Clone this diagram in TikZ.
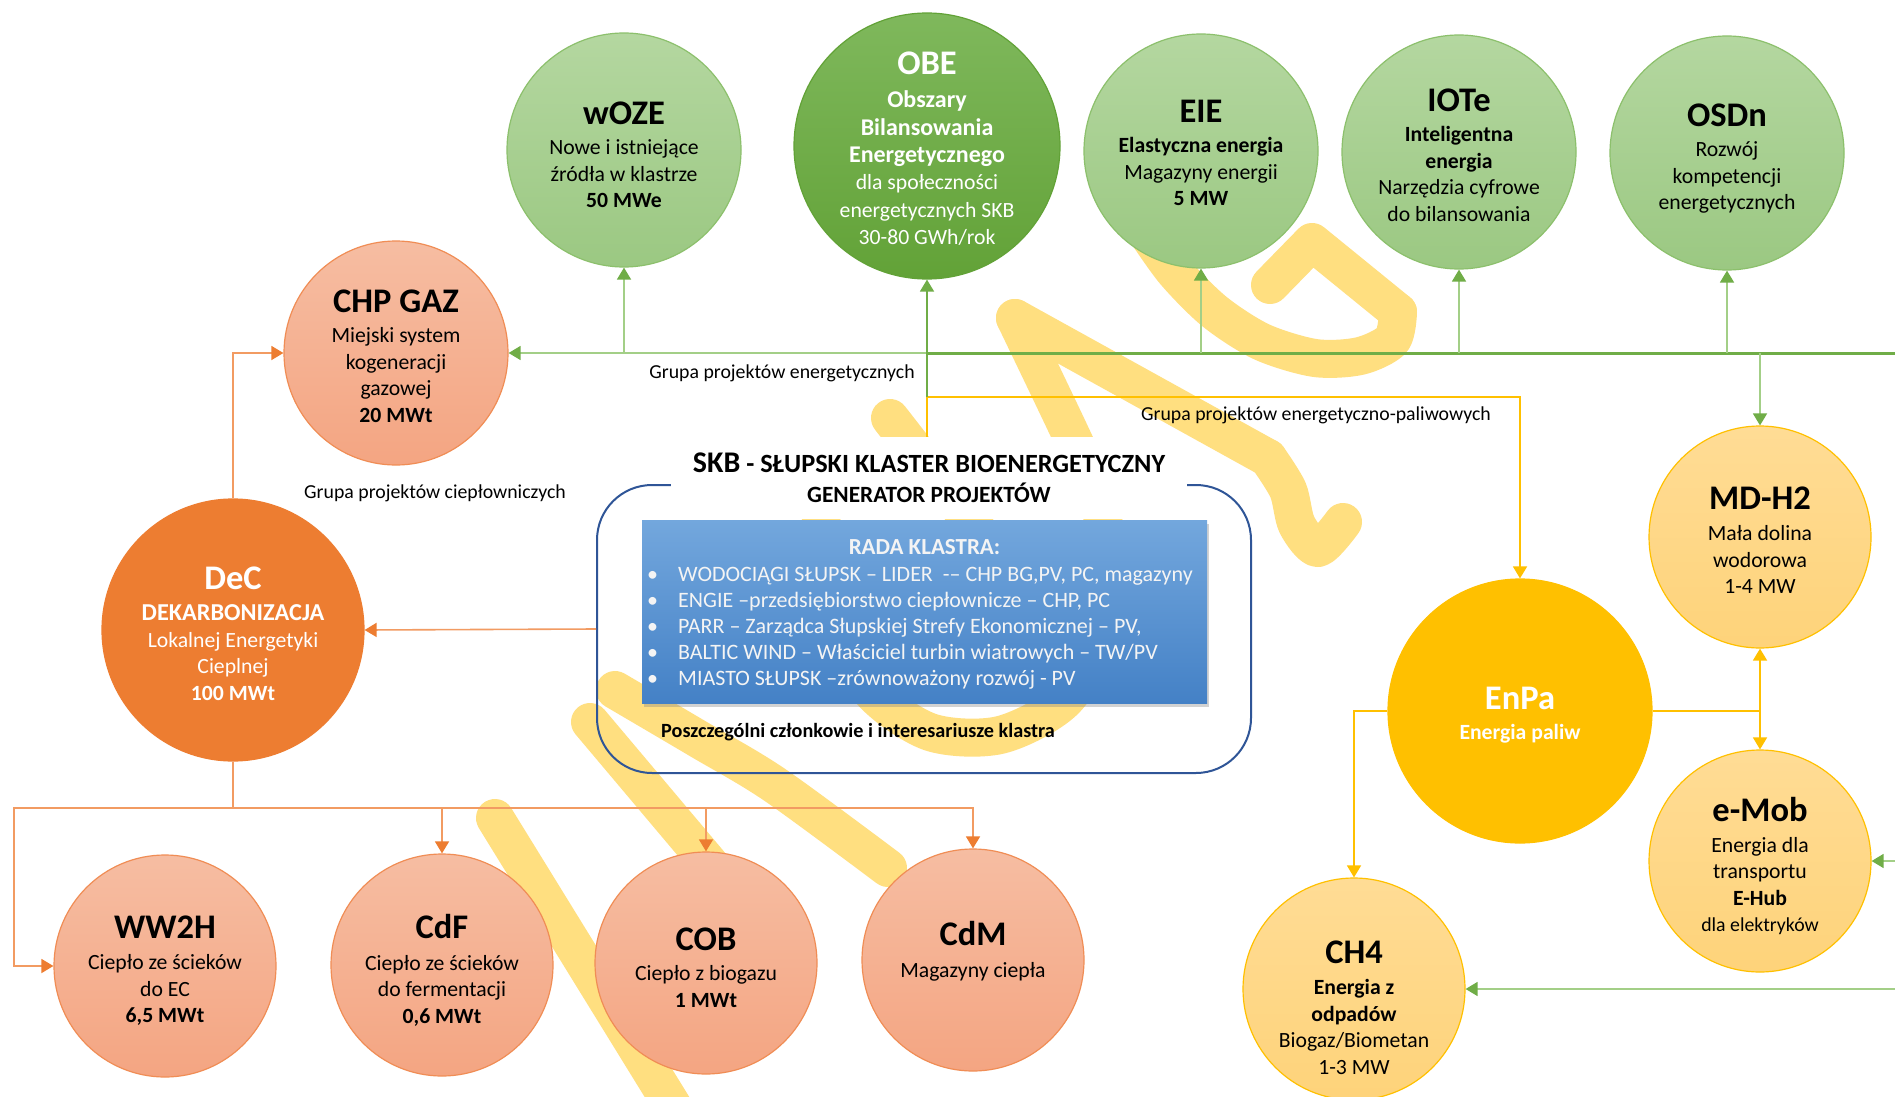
\documentclass[tikz,border=0pt]{standalone}
\usepackage{fontspec}
\setmainfont{Carlito}
\usetikzlibrary{arrows.meta,shadows,calc}

\definecolor{GreenTop}{HTML}{B4D7A0}
\definecolor{GreenBot}{HTML}{9BC882}
\definecolor{GreenEdge}{HTML}{8CC06C}
\definecolor{ObeTop}{HTML}{7FB85C}
\definecolor{ObeBot}{HTML}{62A237}
\definecolor{GreenDark}{HTML}{70AD47}
\definecolor{GreenLine}{HTML}{A3CF87}
\definecolor{SalTop}{HTML}{F6BDA2}
\definecolor{SalBot}{HTML}{F4A582}
\definecolor{SalEdge}{HTML}{F08D55}
\definecolor{OrangeMain}{HTML}{ED7D31}
\definecolor{OrangeLine}{HTML}{F29B62}
\definecolor{Gold}{HTML}{FFC000}
\definecolor{GoldTop}{HTML}{FFDC95}
\definecolor{GoldBot}{HTML}{FED37A}
\definecolor{BlueTop}{HTML}{73A7DD}
\definecolor{BlueBot}{HTML}{4481C6}
\definecolor{Frame}{HTML}{2F5597}
\definecolor{Scrawl}{HTML}{FFDF80}
\definecolor{Pale}{HTML}{F4F4F4}

\newcommand{\bubtitle}{\fontsize{34.5}{36}\selectfont\bfseries}
\newcommand{\obebold}{\fontsize{24}{28}\selectfont\bfseries}
\newcommand{\rbul}{\makebox[31pt][l]{•}}

\tikzset{
  bubble/.style={circle, inner sep=0pt, line width=1.2pt},
  greenbub/.style={bubble, draw=GreenEdge, top color=GreenTop, bottom color=GreenBot, minimum size=234pt},
  obebub/.style={bubble, draw=ObeBot, top color=ObeTop, bottom color=ObeBot, minimum size=266pt},
  salbub/.style={bubble, draw=SalEdge, top color=SalTop, bottom color=SalBot, minimum size=222pt},
  decbub/.style={bubble, draw=OrangeMain, fill=OrangeMain, minimum size=262pt},
  enpabub/.style={bubble, draw=Gold, fill=Gold, minimum size=264pt},
  goldbub/.style={bubble, draw=Gold, top color=GoldTop, bottom color=GoldBot, minimum size=222pt},
  btext/.style={align=center, inner sep=0pt, anchor=north, font=\fontsize{21.7}{26.5}\selectfont},
  grp/.style={inner sep=0pt, font=\fontsize{19.8}{24}\selectfont},
  gline/.style={draw=GreenLine, line width=1.6pt},
  garrow/.style={gline, -{Triangle[length=12pt,width=14pt,color=GreenDark]}},
  oline/.style={draw=OrangeLine, line width=1.6pt},
  oarrow/.style={oline, -{Triangle[length=12pt,width=14pt,color=OrangeMain]}},
  yline/.style={draw=Gold, line width=1.6pt},
  yarrow/.style={yline, -{Triangle[length=12pt,width=14pt]}},
  scrawl/.style={draw=Scrawl, line width=38pt, line cap=round, line join=round},
}

\begin{document}
\begin{tikzpicture}[x=1pt,y=-1pt]
\fill[white] (0,0) rectangle (1895,1097);
\useasboundingbox (0,0) rectangle (1895,1097);

% background scrawl
\draw[scrawl] (495,818) -- (675,1110);
\draw[scrawl] (590,722) -- (740,900);
\draw[scrawl] plot[smooth] coordinates {(615,690) (700,740) (775,785) (888,868)};
\draw[scrawl] plot[smooth] coordinates {(812,468) (823,530) (838,620) (870,690) (930,732) (1000,735) (1065,700) (1105,630) (1110,560) (1095,490) (1071,435) (1015,318)};
\draw[scrawl] (1015,318) -- (1268,458);
\draw[scrawl] plot[smooth] coordinates {(1268,458) (1288,490) (1297,525) (1318,548) (1343,522)};
\draw[scrawl] (890,418) -- (985,540);
\draw[scrawl] (1270,285) -- (1312,242) -- (1398,312);
\draw[scrawl] plot[smooth] coordinates {(1398,312) (1392,340) (1360,356) (1315,358) (1262,342) (1215,312) (1175,272) (1145,230)};

% bubbles
\node[greenbub] (woze) at (624,150) {};
\node[obebub] (obe) at (927,146) {};
\node[greenbub] (eie) at (1201,151) {};
\node[greenbub] (iote) at (1459,152) {};
\node[greenbub] (osdn) at (1727,153) {};
\node[salbub, minimum size=224pt] (chp) at (396,353) {};
\node[decbub] (dec) at (233,630) {};
\node[salbub] (ww2h) at (165,966) {};
\node[salbub] (cdf) at (442,965) {};
\node[salbub] (cob) at (706,963) {};
\node[salbub] (cdm) at (973,960) {};
\node[enpabub] (enpa) at (1520,711) {};
\node[goldbub] (mdh2) at (1760,537) {};
\node[goldbub] (emob) at (1760,861) {};
\node[goldbub] (ch4) at (1354,989) {};

% bubble texts
\node[btext] (woze-t) at (624,101.5) {{\bubtitle wOZE}\\[4pt]Nowe i istniejące\\źródła w klastrze\\\textbf{50 MWe}};
\node[btext, text=white, font=\fontsize{21.7}{27.4}\selectfont] (obe-t) at (927,51.5) {{\bubtitle OBE}\\[6pt]{\obebold Obszary}\\{\obebold Bilansowania}\\{\obebold Energetycznego}\\dla społeczności\\energetycznych SKB\\30-80 GWh/rok};
\node[btext] (eie-t) at (1201,99.5) {{\bubtitle EIE}\\[4pt]\textbf{Elastyczna energia}\\Magazyny energii\\\textbf{5 MW}};
\node[btext] (iote-t) at (1459,88.5) {{\bubtitle IOTe}\\[4pt]\textbf{Inteligentna}\\\textbf{energia}\\Narzędzia cyfrowe\\do bilansowania};
\node[btext] (osdn-t) at (1727,103.5) {{\bubtitle OSDn}\\[4pt]Rozwój\\kompetencji\\energetycznych};
\node[btext] (chp-t) at (396,289.5) {{\bubtitle CHP GAZ}\\[4pt]Miejski system\\kogeneracji\\gazowej\\\textbf{20 MWt}};
\node[btext, text=white] (dec-t) at (233,566.5) {{\bubtitle DeC}\\[5pt]{\fontsize{24.3}{28}\selectfont\bfseries DEKARBONIZACJA}\\Lokalnej Energetyki\\Cieplnej\\\textbf{100 MWt}};
\node[btext] (ww2h-t) at (165,915.5) {{\bubtitle WW2H}\\[5pt]Ciepło ze ścieków\\do EC\\\textbf{6,5 MWt}};
\node[btext] (cdf-t) at (442,914.5) {{\bubtitle CdF}\\[5pt]Ciepło ze ścieków\\do fermentacji\\\textbf{0,6 MWt}};
\node[btext] (cob-t) at (706,927.5) {{\bubtitle COB}\\[4pt]Ciepło z biogazu\\\textbf{1 MWt}};
\node[btext] (cdm-t) at (973,921.5) {{\bubtitle CdM}\\[5pt]Magazyny ciepła};
\node[btext, text=white] (enpa-t) at (1520,686.5) {{\bubtitle EnPa}\\[4pt]\textbf{Energia paliw}};
\node[btext] (mdh2-t) at (1760,486.5) {{\bubtitle MD-H2}\\[5pt]Mała dolina\\wodorowa\\1-4 MW};
\node[btext] (emob-t) at (1760,797.5) {{\bubtitle e-Mob}\\[4pt]Energia dla\\transportu\\\textbf{E-Hub}\\{\fontsize{19.8}{24}\selectfont dla elektryków}};
\node[btext] (ch4-t) at (1354,940.5) {{\bubtitle CH4}\\[5pt]\textbf{Energia z}\\\textbf{odpadów}\\Biogaz/Biometan\\1-3 MW};

% cluster frame
\node[draw=Frame, line width=2pt, rounded corners=55pt, minimum width=654pt, minimum height=288pt, inner sep=0pt] (skb) at (924,629) {};
\node[fill=white, minimum width=516pt, minimum height=82pt, inner sep=0pt, align=center,
      font=\fontsize{23.3}{30}\selectfont\bfseries] (skb-title) at (929,478)
  {{\fontsize{30}{30}\selectfont SKB}{\fontsize{26.3}{30}\selectfont\ - SŁUPSKI KLASTER BIOENERGETYCZNY}\\GENERATOR PROJEKTÓW};
\node[top color=BlueTop, bottom color=BlueBot, minimum width=565pt, minimum height=183pt, inner sep=0pt,
      drop shadow={shadow xshift=2pt, shadow yshift=-4pt, opacity=0.35}] (rada) at (924.5,611.5) {};
\node[text=Pale, font=\fontsize{23}{26}\selectfont\bfseries, inner sep=0pt] (rada-h) at (924.5,547) {RADA KLASTRA:};
\node[text=Pale, font=\fontsize{22}{26}\selectfont, align=left, inner sep=0pt, anchor=west] (rada-list) at (647,628)
  {\rbul WODOCIĄGI SŁUPSK – LIDER \ -– CHP BG,PV, PC, magazyny\\
   \rbul ENGIE –przedsiębiorstwo ciepłownicze – CHP, PC\\
   \rbul PARR – Zarządca Słupskiej Strefy Ekonomicznej – PV,\\
   \rbul BALTIC WIND – Właściciel turbin wiatrowych – TW/PV\\
   \rbul MIASTO SŁUPSK –zrównoważony rozwój - PV};
\node[font=\fontsize{20.2}{24}\selectfont\bfseries, inner sep=0pt] (skb-members) at (858,732) {Poszczególni członkowie i interesariusze klastra};

% group labels
\node[grp] (grp-energy) at (782,373) {Grupa projektów energetycznych};
\node[grp] (grp-fuel) at (1316,415) {Grupa projektów energetyczno-paliwowych};
\node[grp] (grp-heat) at (435,493) {Grupa projektów ciepłowniczych};

% energy group connectors
\coordinate (g-right) at (1895,353);
\coordinate (y-level) at (0,397);
\draw[garrow] (g-right) -- (chp.east);
\draw[draw=GreenDark, line width=3pt] (obe.south |- g-right) -- (g-right);
\foreach \n in {woze,eie,iote,osdn} {\draw[garrow] (\n.south |- g-right) -- (\n.south);}
\draw[garrow] (mdh2.north |- g-right) -- (mdh2.north);
\coordinate (skb-top) at (skb-title.north -| obe.south);
\coordinate (y-split) at (obe.south |- y-level);
\draw[yarrow] (skb-top) -- (y-split) -| (enpa.north);
\draw[garrow, draw=GreenDark] (y-split) -- (obe.south);
\coordinate (e-right) at (1895,861);
\draw[garrow] (e-right) -- (emob.east);
\coordinate (c-right) at (1895,989);
\draw[garrow] (c-right) -- (ch4.east);

% heat group connectors
\draw[oarrow] (dec.north) |- (chp.west);
\draw[oarrow] (skb.west) -- (dec.east);
\coordinate (o-bus) at (233,808);
\coordinate (o-left) at (14,808);
\draw[oline] (dec.south) -- (o-bus);
\draw[oarrow] (o-bus) -- (o-left) |- (ww2h.west);
\draw[oarrow] (o-bus) -| (cdf.north);
\draw[oarrow] (o-bus) -| (cob.north);
\draw[oarrow] (o-bus) -| (cdm.north);

% fuel group connectors
\draw[yarrow] (enpa.west) -| (ch4.north);
\coordinate (y-hub) at (emob.north |- enpa.east);
\draw[yline] (enpa.east) -- (y-hub);
\draw[yarrow] (y-hub) -- (mdh2.south);
\draw[yarrow] (y-hub) -- (emob.north);
\end{tikzpicture}
\end{document}
